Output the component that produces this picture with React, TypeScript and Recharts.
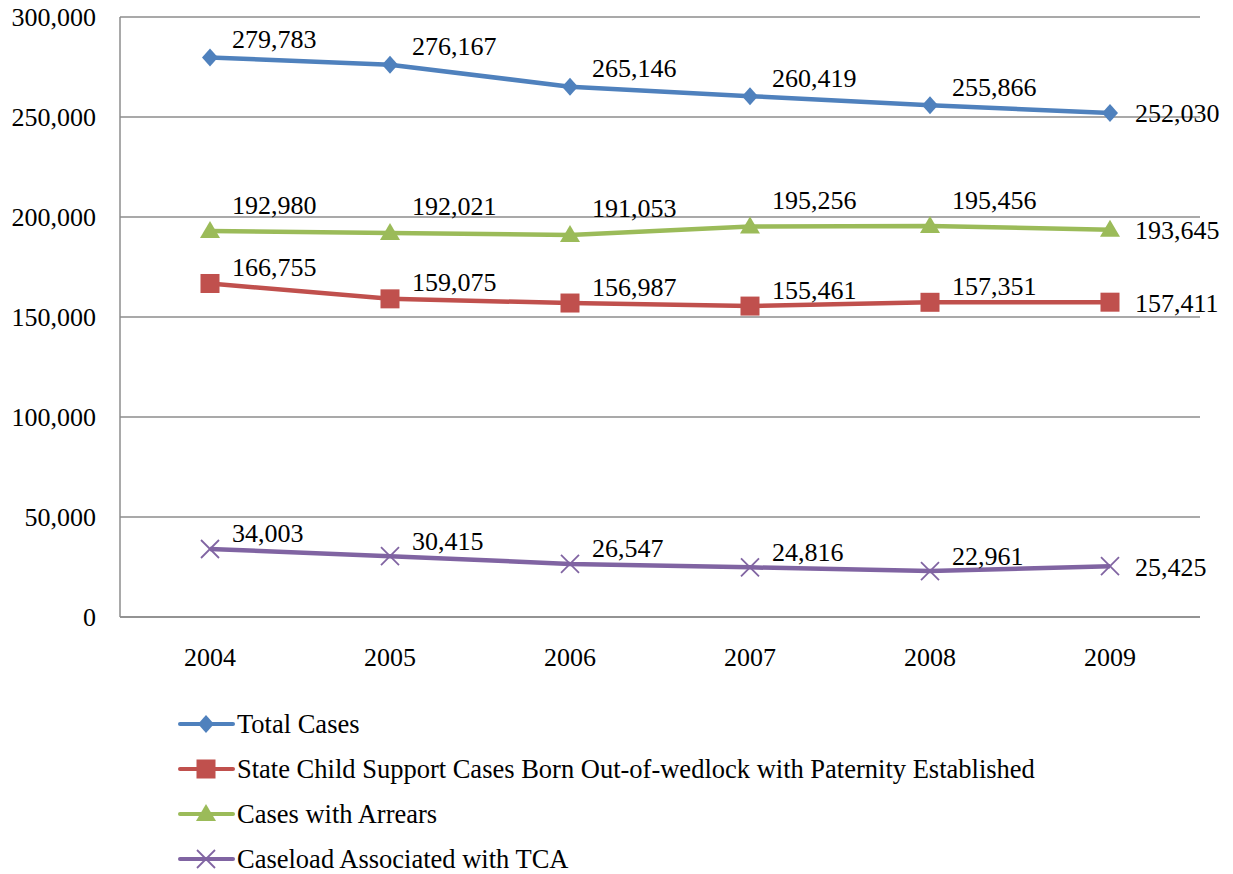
import { LineChart, Line, XAxis, YAxis, CartesianGrid, Legend, LabelList } from 'recharts'

const years = ['2004', '2005', '2006', '2007', '2008', '2009']
const totalCases = [279783, 276167, 265146, 260419, 255866, 252030]
const paternityCases = [166755, 159075, 156987, 155461, 157351, 157411]
const arrearsCases = [192980, 192021, 191053, 195256, 195456, 193645]
const tcaCaseload = [34003, 30415, 26547, 24816, 22961, 25425]
const yTicks = [0, 50000, 100000, 150000, 200000, 250000, 300000]

const data = years.map((year, i) => ({
    year,
    total: totalCases[i],
    paternity: paternityCases[i],
    arrears: arrearsCases[i],
    tca: tcaCaseload[i],
}))

const FONT = "'Liberation Serif', 'Times New Roman', serif"
const fmt = (v: number) => v.toLocaleString('en-US')

type Shape = 'diamond' | 'square' | 'triangle' | 'cross'

const series: { key: string; name: string; color: string; shape: Shape; lift: number }[] = [
    { key: 'total', name: 'Total Cases', color: '#4F81BD', shape: 'diamond', lift: 18 },
    { key: 'paternity', name: 'State Child Support Cases Born Out-of-wedlock with Paternity Established', color: '#C0504D', shape: 'square', lift: 16 },
    { key: 'arrears', name: 'Cases with Arrears', color: '#9BBB59', shape: 'triangle', lift: 26 },
    { key: 'tca', name: 'Caseload Associated with TCA', color: '#8064A2', shape: 'cross', lift: 15 },
]

function Marker({ cx, cy, color, shape }: { cx: number; cy: number; color: string; shape: Shape }) {
    if (shape === 'diamond') {
        return <polygon points={`${cx},${cy - 9} ${cx + 8},${cy} ${cx},${cy + 9} ${cx - 8},${cy}`} fill={color} />
    }
    if (shape === 'square') {
        return <rect x={cx - 9.5} y={cy - 9.5} width={19} height={19} fill={color} />
    }
    if (shape === 'triangle') {
        return <polygon points={`${cx},${cy - 10} ${cx + 10},${cy + 7} ${cx - 10},${cy + 7}`} fill={color} />
    }
    return (
        <g stroke={color} strokeWidth={1.8}>
            <line x1={cx - 9} y1={cy - 9} x2={cx + 9} y2={cy + 9} />
            <line x1={cx - 9} y1={cy + 9} x2={cx + 9} y2={cy - 9} />
        </g>
    )
}

function makeDot(color: string, shape: Shape) {
    return (props: any) => {
        const { cx, cy, index } = props
        if (cx == null || cy == null) return <g key={index} />
        return <Marker key={index} cx={cx} cy={cy} color={color} shape={shape} />
    }
}

// value labels sit up and to the right of each point, the last one straight to the right
function makeLabel(lift: number) {
    return (props: any) => {
        const { x, y, value, index } = props
        const last = index === years.length - 1
        return (
            <text
                x={x + (last ? 25 : 22)}
                y={y - (last ? -1 : lift)}
                dominantBaseline="central"
                textAnchor="start"
                style={{ fontFamily: FONT }}
                fontSize={26}
                fill="#000"
            >
                {fmt(value)}
            </text>
        )
    }
}

function LegendBox() {
    return (
        <div style={{ height: 173, paddingLeft: 178, fontFamily: FONT, fontSize: 26.5, lineHeight: '26px', color: '#000' }}>
            {series.map((s) => (
                <div key={s.key} style={{ height: 45, display: 'flex', alignItems: 'center' }}>
                    <svg width={59} height={30} style={{ flex: 'none' }}>
                        <line x1={2} y1={15} x2={55} y2={15} stroke={s.color} strokeWidth={4} strokeLinecap="round" />
                        <Marker cx={28} cy={15} color={s.color} shape={s.shape} />
                    </svg>
                    <span style={{ whiteSpace: 'nowrap' }}>{s.name}</span>
                </div>
            ))}
        </div>
    )
}

export default function App() {
    return (
        <div style={{ position: 'absolute', left: 0, top: 0, background: '#fff', fontFamily: FONT }}>
            <LineChart
                width={1233}
                height={874}
                data={data}
                margin={{ top: 17, right: 33, left: 0, bottom: 0 }}
                style={{ fontFamily: FONT }}
            >
                <CartesianGrid vertical={false} stroke="#8c8c8c" strokeWidth={1.5} />
                <XAxis
                    dataKey="year"
                    padding={{ left: 90, right: 90 }}
                    height={84}
                    tickLine={false}
                    tickSize={0}
                    tickMargin={31}
                    axisLine={{ stroke: '#8c8c8c', strokeWidth: 1.5 }}
                    tick={{ fontFamily: FONT, fontSize: 26, fill: '#000' }}
                />
                <YAxis
                    width={120}
                    domain={[0, 300000]}
                    ticks={yTicks}
                    tickFormatter={fmt}
                    tickLine={false}
                    tickSize={0}
                    tickMargin={24}
                    axisLine={{ stroke: '#8c8c8c', strokeWidth: 1.5 }}
                    tick={{ fontFamily: FONT, fontSize: 26, fill: '#000' }}
                />
                <Legend
                    verticalAlign="bottom"
                    wrapperStyle={{ left: 0, width: 1233 }}
                    content={() => <LegendBox />}
                />
                {series.map((s) => (
                    <Line
                        key={s.key}
                        type="linear"
                        dataKey={s.key}
                        name={s.name}
                        stroke={s.color}
                        strokeWidth={4.5}
                        dot={makeDot(s.color, s.shape)}
                        activeDot={false}
                        isAnimationActive={false}
                    >
                        <LabelList dataKey={s.key} content={makeLabel(s.lift)} />
                    </Line>
                ))}
            </LineChart>
        </div>
    )
}
